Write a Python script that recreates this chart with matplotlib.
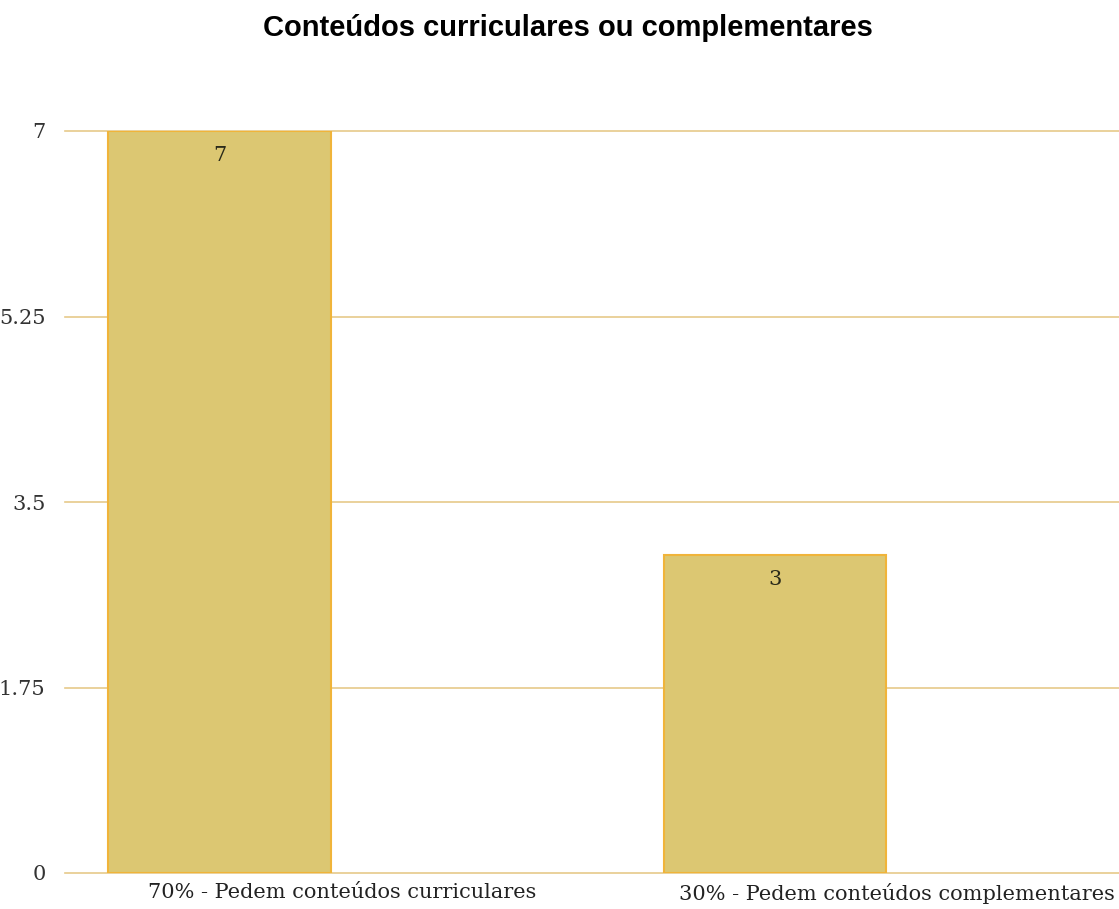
import matplotlib.pyplot as plt

categorias = ["70% - Pedem conteúdos curriculares", "30% - Pedem conteúdos complementares"]
valores = [7, 3]
ticks_y = [0, 1.75, 3.5, 5.25, 7]
titulo = "Conteúdos curriculares ou complementares"

fig = plt.figure(figsize=(11.19, 9.09), dpi=100)
ax = fig.add_axes([65 / 1119, 1 - 873 / 909, 1 - 65 / 1119, (873 - 131) / 909])

x = list(range(len(categorias)))
ax.bar(x, valores, width=0.4, color="#dcc772", edgecolor="#f0b43a", linewidth=1.5, zorder=3)

for xi, v in zip(x, valores):
    ax.text(xi, v - 0.14, str(v), ha="center", va="top", fontsize=15,
            family="DejaVu Serif", color="#2a2a1a", zorder=4)

ax.set_xlim(-0.278, 1.619)
ax.set_ylim(0, 7)
ax.set_yticks(ticks_y)
ax.set_yticklabels([("%g" % t) for t in ticks_y], family="DejaVu Serif", fontsize=15, color="#333333")
# rótulos deslocados para a direita como no original
ax.set_xticks([xi + 0.22 for xi in x])
ax.set_xticklabels(categorias, family="DejaVu Serif", fontsize=15, color="#222222")
ax.tick_params(axis="both", length=0)
ax.tick_params(axis="y", pad=14)
ax.tick_params(axis="x", pad=7)

for t in ticks_y:
    ax.axhline(t, color="#e6c98a", linewidth=1.2, zorder=1, clip_on=False)

for s in ax.spines.values():
    s.set_visible(False)

fig.text(568 / 1119, 1 - 28 / 909, titulo, ha="center", va="center",
         fontsize=21, fontweight="bold", family="Liberation Sans")

fig.savefig("out.png", dpi=100)
